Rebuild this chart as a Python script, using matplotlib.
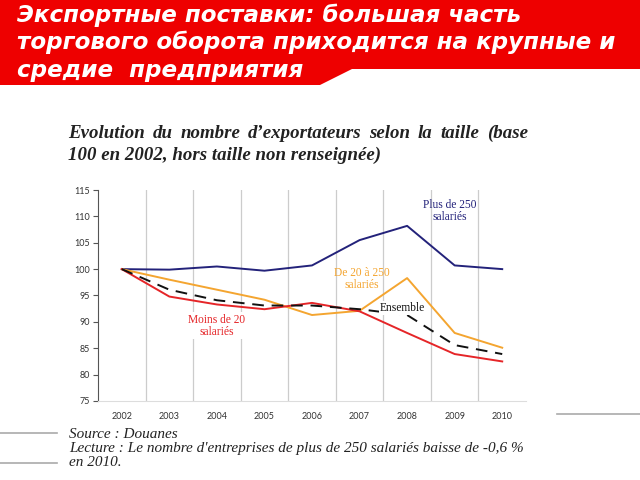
import matplotlib.pyplot as plt
from matplotlib.patches import Polygon
import numpy as np

years = ["2002", "2003", "2004", "2005", "2006", "2007", "2008", "2009", "2010"]
plus_250 = [100, 99.9, 100.5, 99.7, 100.7, 105.5, 108.2, 100.7, 100.0]
de_20_250 = [100, 98.0, 96.1, 94.2, 91.3, 92.1, 98.3, 87.9, 85.1]
moins_20 = [100, 94.8, 93.3, 92.4, 93.6, 92.0, 87.9, 83.9, 82.5]
ensemble = [100, 96.1, 94.1, 93.1, 93.1, 92.4, 91.3, 85.6, 83.9]
y_ticks = [75, 80, 85, 90, 95, 100, 105, 110, 115]

header = ["Экспортные поставки: большая часть",
          "торгового оборота приходится на крупные и",
          "средие  предприятия"]
subtitle = ["Evolution du nombre d\u2019exportateurs selon la taille (base",
            "100 en 2002, hors taille non renseignée)"]
footer = ["Source : Douanes",
          "Lecture : Le nombre d'entreprises de plus de 250 salariés baisse de -0,6 %",
          "en 2010."]

W, H = 640, 480
fig = plt.figure(figsize=(6.4, 4.8), dpi=100)
renderer = fig.canvas.get_renderer()

def px(x, y):
    # pixel coords (top-left origin) -> figure fraction
    return (x / W, 1 - y / H)

# red header band
band = Polygon([px(0, 0), px(640, 0), px(640, 69), px(352, 69), px(320, 85), px(0, 85)],
               closed=True, transform=fig.transFigure, facecolor="#ee0000",
               edgecolor="none")
fig.patches.append(band)
for i, line in enumerate(header):
    fig.text(*px(17, 15 + i * 27.5), line, color="white", fontsize=16.6,
             fontweight="bold", fontstyle="italic", family="DejaVu Sans",
             va="center", ha="left")

serif = "Liberation Serif"
sub_kw = dict(fontsize=13.6, fontweight="bold", fontstyle="italic", family=serif,
              va="center", color="#222222")

# first subtitle line is justified between x=68 and x=528
words = subtitle[0].split()
widths = []
arts = []
for w in words:
    t = fig.text(0, 0, w, **sub_kw)
    widths.append(t.get_window_extent(renderer).width)
    arts.append(t)
gap = (528 - 68 - sum(widths)) / (len(words) - 1)
xpos = 68
for t, wd in zip(arts, widths):
    t.set_position(px(xpos, 133))
    xpos += wd + gap
fig.text(*px(68, 155), subtitle[1], **sub_kw)

# footer
for i, line in enumerate(footer):
    fig.text(*px(69, 434 + i * 14.5), line, fontsize=11, fontstyle="italic",
             family=serif, va="center", color="#222222")
for (x0, x1, y) in [(0, 57, 433), (0, 57, 463), (557, 640, 414)]:
    fig.add_artist(plt.Line2D([x0 / W, x1 / W], [1 - y / H, 1 - y / H],
                              transform=fig.transFigure, color="#aaaaaa", lw=1.2))

# chart
ax = fig.add_axes([98 / W, 1 - 401 / H, 428 / W, 211 / H])
x = np.arange(len(years))
for g in np.arange(0.5, len(years) - 1, 1.0):
    ax.axvline(g, color="#cccccc", lw=0.9, zorder=0)

ax.plot(x, plus_250, color="#23227a", lw=1.4)
ax.plot(x, de_20_250, color="#f4a530", lw=1.4)
ax.plot(x, moins_20, color="#e52528", lw=1.4)
ax.plot(x, ensemble, color="#111111", lw=1.4, dashes=(6, 4))

ax.set_xlim(-0.5, len(years) - 0.5)
ax.set_ylim(75, 115)
ax.set_yticks(y_ticks)
ax.set_xticks(x)
ax.set_xticklabels(years)
for lab in ax.get_xticklabels() + ax.get_yticklabels():
    lab.set_family("Lato")
    lab.set_fontsize(6.5)
    lab.set_color("#333333")
ax.tick_params(axis="x", length=0, pad=8)
ax.tick_params(axis="y", length=3.5, width=0.8, color="#555555", pad=2)
for s in ["top", "right"]:
    ax.spines[s].set_visible(False)
ax.spines["left"].set_color("#555555")
ax.spines["bottom"].set_color("#dddddd")

lab_kw = dict(family=serif, fontsize=8.3, ha="center", va="center", linespacing=1.0)
ax.text(6.9, 111.1, "Plus de 250\nsalariés", color="#23227a", **lab_kw)
ax.text(5.05, 98.1, "De 20 à 250\nsalariés", color="#f4a530", **lab_kw)
ax.text(5.9, 92.6, "Ensemble", color="#111111",
        bbox=dict(facecolor="white", edgecolor="none", pad=0.5), **lab_kw)
ax.text(2.0, 89.3, "Moins de 20\nsalariés", color="#e52528",
        bbox=dict(facecolor="white", edgecolor="none", pad=1.0), **lab_kw)

fig.savefig("out.png", dpi=100)
